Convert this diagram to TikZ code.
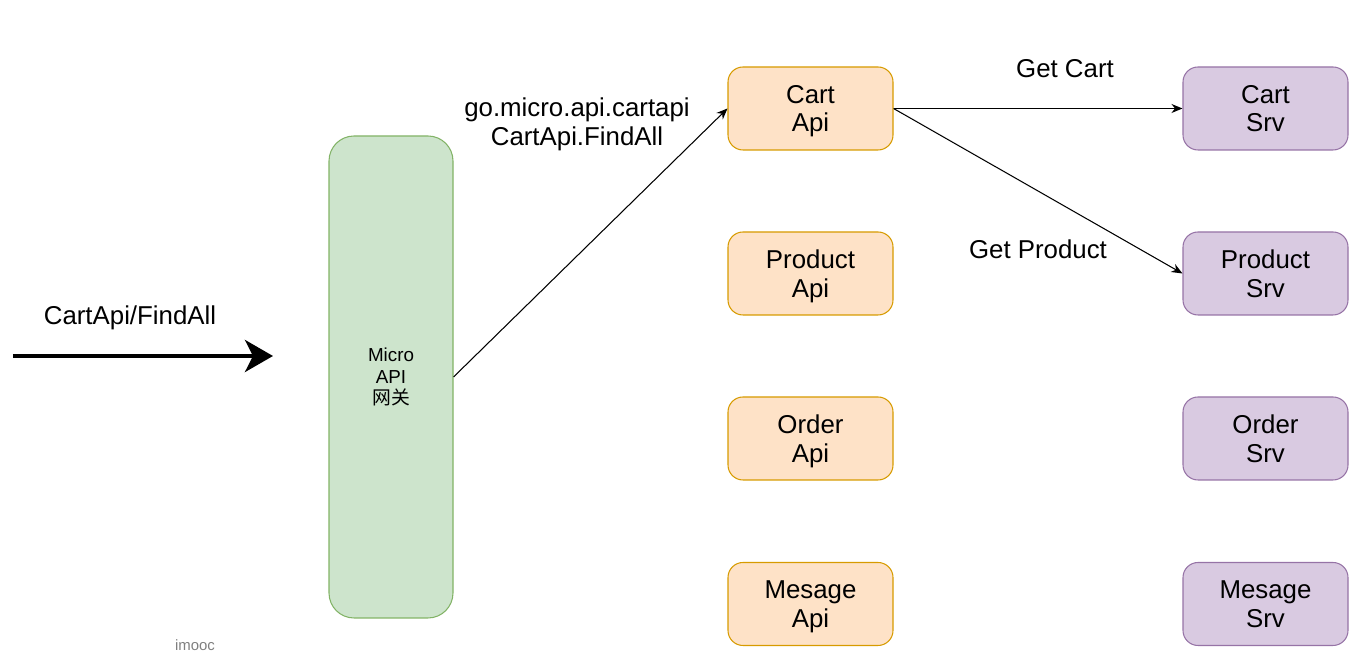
\documentclass[tikz,border=0pt]{standalone}
\usepackage{fontspec}
\setmainfont{Liberation Sans}
\newfontfamily\cjk{Noto Sans CJK SC}
\usetikzlibrary{arrows.meta}

\definecolor{apifill}{HTML}{FEE2C7}
\definecolor{apiline}{HTML}{D79B00}
\definecolor{srvfill}{HTML}{D9CAE1}
\definecolor{srvline}{HTML}{9673A6}
\definecolor{gwfill}{HTML}{CDE4CC}
\definecolor{gwline}{HTML}{82B366}

\begin{document}
\begin{tikzpicture}[
		box/.style={rounded corners=0.3cm, line width=0.6pt, minimum width=3.3cm, minimum height=1.66cm, align=center, font=\fontsize{14.7}{16.4}\selectfont},
		api/.style={box, draw=apiline, fill=apifill},
		srv/.style={box, draw=srvline, fill=srvfill},
		lbl/.style={align=center, font=\fontsize{14.7}{16.4}\selectfont},
		link/.style={line width=0.6pt, -{Stealth[length=2.2mm, width=1.8mm]}}
	]
					\useasboundingbox (0, 0) rectangle (27.3, 13.4);
					
					\begin{scope}
						\coordinate (C1) at (0.26, 6.28);
						\coordinate (C2) at (5.46, 6.28);
						\draw[line width=2.3pt, -{Stealth[length=5.6mm, width=6.4mm, inset=1.6mm]}] (C1) -- (C2);
						\node[lbl] (L0) at (2.6, 7.04) {CartApi/FindAll};
					\end{scope}
					
					\begin{scope}
						\node[draw=gwline, fill=gwfill, line width=0.6pt, rounded corners=0.5cm, minimum width=2.48cm, minimum height=9.64cm, align=center, font=\fontsize{10.7}{12}\selectfont] (G) at (7.82, 5.86) {Micro\\API\\{\cjk 网关}};
						\node[text=gray, font=\fontsize{8.5}{10}\selectfont] (W) at (3.9, 0.5) {imooc};
					\end{scope}
					
					\begin{scope}
						\node[api] (A1) at (16.21, 11.23) {Cart\\\smash{Api}};
						\node[api] (A2) at (16.21, 7.93) {Product\\\smash{Api}};
						\node[api] (A3) at (16.21, 4.63) {Order\\\smash{Api}};
						\node[api] (A4) at (16.21, 1.32) {Mesage\\\smash{Api}};
						
						\node[srv] (S1) at (25.31, 11.23) {Cart\\\smash{Srv}};
						\node[srv] (S2) at (25.31, 7.93) {Product\\\smash{Srv}};
						\node[srv] (S3) at (25.31, 4.63) {Order\\\smash{Srv}};
						\node[srv] (S4) at (25.31, 1.32) {Mesage\\\smash{Srv}};
					\end{scope}
					
					\begin{scope}
						\draw[link] (G.east) -- (A1.west);
						\draw[link] (A1.east) -- (S1.west);
						\draw[link] (A1.east) -- (S2.west);
						
						\node[lbl] (L1) at (11.54, 10.92) {go.micro.api.cartapi\\CartApi.FindAll};
						\node[lbl] (L2) at (21.3, 12.02) {Get Cart};
						\node[lbl] (L3) at (20.76, 8.42) {Get Product};
					\end{scope}
				\end{tikzpicture}
\end{document}
